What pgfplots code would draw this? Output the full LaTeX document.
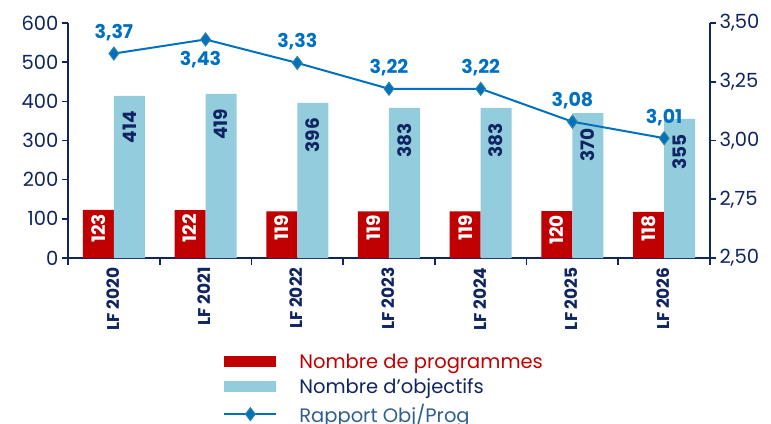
\documentclass[border=0pt]{standalone}
\usepackage{fontspec}
\setmainfont{Poppins}
\usepackage{pgfplots}
\pgfplotsset{compat=1.18}

\definecolor{progred}{HTML}{C00000}
\definecolor{objblue}{HTML}{93CDDD}
\definecolor{navy}{HTML}{0F2461}
\definecolor{lineblue}{HTML}{0070C0}
\definecolor{markedge}{HTML}{31849B}
\definecolor{ratiotxt}{HTML}{2F5F8F}

\begin{document}
\begin{tikzpicture}
\pgfplotsset{
  common/.style={
    scale only axis, width=642pt, height=235pt,
    xmin=-0.5, xmax=6.5,
    tick align=outside,
    axis line style={navy, line width=1.6pt},
    every tick/.style={navy, line width=1.6pt},
    major tick length=6pt, minor tick length=7pt,
    tick label style={font=\fontsize{19.5}{19.5}\selectfont, text=navy},
    /pgf/number format/assume math mode=true,
  },
  bar legend/.style={legend image code/.code={\fill[##1, draw=none] (0pt,-5.5pt) rectangle (52pt,5.5pt);}},
  ratio legend/.style={legend image code/.code={\draw[mark repeat=2, mark phase=2, ##1]
    plot coordinates {(0pt,0pt) (26pt,0pt) (52pt,0pt)};}},
}

% bars, left axis
\begin{axis}[common,
  ymin=0, ymax=600,
  axis y line*=left, axis x line*=bottom,
  ytick={0,100,...,600},
  xtick={0,...,6},
  xticklabels={LF 2020,LF 2021,LF 2022,LF 2023,LF 2024,LF 2025,LF 2026},
  xticklabel style={rotate=90, anchor=east, font=\fontsize{17}{17}\selectfont\bfseries, yshift=1pt},
  major x tick style={draw=none},
  minor xtick={-0.5,0.5,...,6.5},
  ybar=0pt, bar width=31pt,
]
\addplot[fill=progred, draw=none,
  nodes near coords,
  nodes near coords style={rotate=90, anchor=east, text=white, inner xsep=4pt,
    font=\fontsize{18.5}{18.5}\selectfont\bfseries}]
  coordinates {(0,123) (1,122) (2,119) (3,119) (4,119) (5,120) (6,118)};
\addplot[fill=objblue, draw=none,
  nodes near coords,
  nodes near coords style={rotate=90, anchor=east, text=navy, inner xsep=15pt,
    font=\fontsize{18.5}{18.5}\selectfont\bfseries}]
  coordinates {(0,414) (1,419) (2,396) (3,383) (4,383) (5,370) (6,355)};
\end{axis}

% ratio, right axis
\begin{axis}[common,
  ymin=2.5, ymax=3.5,
  axis y line*=right, axis x line=none,
  ytick={2.5,2.75,...,3.5},
  yticklabel style={/pgf/number format/.cd, use comma, fixed, fixed zerofill, precision=2},
  legend style={at={(0.237,-0.39)}, anchor=north west, draw=none, fill=none,
    font=\fontsize{19.5}{19.5}\selectfont, row sep=5pt,
    /tikz/every odd column/.style={column sep=20pt}},
  legend cell align=left,
]
\addlegendimage{bar legend, fill=progred}
\addlegendentry{\textcolor{progred}{Nombre de programmes}}
\addlegendimage{bar legend, fill=objblue}
\addlegendentry{\textcolor{navy}{Nombre d'objectifs}}
\addplot[ratio legend, lineblue, line width=2pt, mark=diamond*, mark size=6.5pt,
  mark options={fill=lineblue, draw=markedge, line width=1pt}]
  coordinates {(0,3.37) (1,3.43) (2,3.33) (3,3.22) (4,3.22) (5,3.08) (6,3.01)};
\addlegendentry{\textcolor{ratiotxt}{Rapport Obj/Prog}}
% value labels above the line
\addplot[draw=none, forget plot, nodes near coords,
  point meta=y,
  nodes near coords style={anchor=south, yshift=9pt, text=lineblue,
    font=\fontsize{19}{19}\selectfont\bfseries,
    /pgf/number format/.cd, use comma, fixed, fixed zerofill, precision=2}]
  coordinates {(0,3.37) (2,3.33) (3,3.22) (4,3.22) (5,3.08) (6,3.01)};
% value label below the line
\addplot[draw=none, forget plot, nodes near coords,
  point meta=y,
  nodes near coords style={anchor=north, yshift=-8pt, xshift=-5pt, text=lineblue,
    font=\fontsize{19}{19}\selectfont\bfseries,
    /pgf/number format/.cd, use comma, fixed, fixed zerofill, precision=2}]
  coordinates {(1,3.43)};
\end{axis}

\pgfresetboundingbox
\path (-68pt,-165pt) rectangle (703pt,258pt);
\end{tikzpicture}
\end{document}
